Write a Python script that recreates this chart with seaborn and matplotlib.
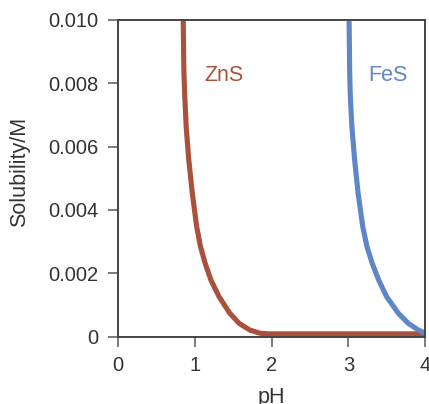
import pandas as pd
import matplotlib
matplotlib.use('Agg')
import matplotlib.pyplot as plt
import seaborn as sns

# values
zns_ph = [0.850, 0.858, 0.868, 0.888, 0.922, 0.968, 1.025, 1.075, 1.135, 1.21, 1.317,
          1.456, 1.578, 1.717, 1.85, 1.95, 3.0, 4.0]
zns_sol = [0.00993, 0.00841, 0.00769, 0.00663, 0.00558, 0.00453, 0.00347, 0.00284, 0.00232,
           0.00179, 0.00126, 0.00074, 0.00042, 0.00021, 0.00011, 0.00009, 0.00009, 0.00009]
fes_ph = [3.010, 3.017, 3.024, 3.046, 3.082, 3.127, 3.188, 3.243, 3.310, 3.395, 3.499,
          3.651, 3.781, 3.911, 4.0]
fes_sol = [0.00993, 0.00841, 0.00769, 0.00663, 0.00558, 0.00453, 0.00347, 0.00284, 0.00232,
           0.00179, 0.00126, 0.00074, 0.00042, 0.00021, 0.00011]
labels = ['ZnS', 'FeS']
colors = ['#A9513B', '#5F86C6']
x_ticks = [0, 1, 2, 3, 4]
y_ticks = [0, 0.002, 0.004, 0.006, 0.008, 0.010]
y_tick_labels = ['0', '0.002', '0.004', '0.006', '0.008', '0.010']

df = pd.concat([
    pd.DataFrame({'pH': zns_ph, 'sol': zns_sol, 'salt': labels[0]}),
    pd.DataFrame({'pH': fes_ph, 'sol': fes_sol, 'salt': labels[1]}),
])

sns.set_style('ticks')
plt.rcParams['font.family'] = ['Liberation Sans', 'DejaVu Sans']

fig = plt.figure(figsize=(4.29, 4.04), dpi=100)
ax = fig.add_axes([0.275, 0.1666, 0.716, 0.784])

sns.lineplot(data=df, x='pH', y='sol', hue='salt', palette=colors, legend=False,
             lw=3.7, ax=ax, estimator=None, sort=False, solid_joinstyle='round')

ax.text(1.38, 0.00825, 'ZnS', color=colors[0], fontsize=15.5, ha='center', va='center')
ax.text(3.51, 0.00825, 'FeS', color=colors[1], fontsize=15.5, ha='center', va='center')

ax.set_xlim(0, 4)
ax.set_ylim(0, 0.010)
ax.set_xticks(x_ticks)
ax.set_yticks(y_ticks)
ax.set_yticklabels(y_tick_labels)
ax.set_xlabel('pH', fontsize=15.5, color='#333333')
ax.set_ylabel('Solubility/M', fontsize=15.5, color='#333333')
ax.xaxis.set_label_coords(0.5, -0.16)
ax.yaxis.set_label_coords(-0.285, 0.52)
ax.tick_params(direction='out', length=7, width=1.2, color='#666666', pad=7,
               labelsize=14.5, labelcolor='#333333')
for s in ax.spines.values():
    s.set_color('#444444')
    s.set_linewidth(1.4)

fig.savefig('out.png', dpi=100)
